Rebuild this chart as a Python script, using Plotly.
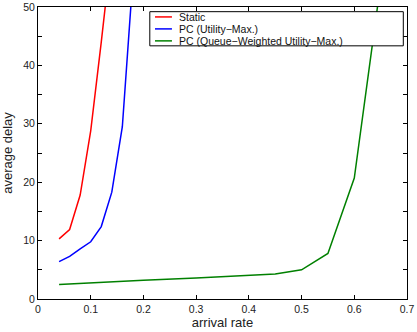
import plotly.graph_objects as go

# ---- data ----
static_x = [0.04, 0.06, 0.08, 0.10, 0.12, 0.14]
static_y = [10.3, 11.9, 17.8, 28.8, 44.0, 60.0]

pc_x = [0.04, 0.06, 0.08, 0.10, 0.12, 0.14, 0.16, 0.18]
pc_y = [6.4, 7.3, 8.6, 9.8, 12.4, 18.3, 29.5, 55.0]

qw_x = [0.04, 0.10, 0.20, 0.30, 0.40, 0.45, 0.50, 0.55, 0.60, 0.65]
qw_y = [2.5, 2.8, 3.2, 3.6, 4.0, 4.3, 5.0, 7.8, 20.7, 54.0]

names = ["Static", "PC (Utility\u2212Max.)", "PC (Queue\u2212Weighted Utility\u2212Max.)"]
colors = ["#ff0000", "#0000ff", "#008000"]
xs = [static_x, pc_x, qw_x]
ys = [static_y, pc_y, qw_y]

x_ticks = [0, 0.1, 0.2, 0.3, 0.4, 0.5, 0.6, 0.7]
x_ticklabels = ["0", "0.1", "0.2", "0.3", "0.4", "0.5", "0.6", "0.7"]
y_ticks = [0, 10, 20, 30, 40, 50]

FONT = "Liberation Sans, Arial, Helvetica, sans-serif"

fig = go.Figure()
for x, y, n, c in zip(xs, ys, names, colors):
    fig.add_trace(go.Scatter(x=x, y=y, mode="lines", name=n, showlegend=False,
                             line=dict(color=c, width=1.5)))

axis_common = dict(showline=True, linecolor="black", linewidth=1, mirror="allticks",
                   ticks="inside", ticklen=4, tickcolor="black", showgrid=False,
                   zeroline=False, automargin=False,
                   tickfont=dict(family=FONT, size=10.5, color="#222"))

fig.update_xaxes(range=[0, 0.7], tickvals=x_ticks, ticktext=x_ticklabels,
                 title=dict(text="arrival rate", font=dict(family=FONT, size=13, color="#222"),
                            standoff=3),
                 **axis_common)
fig.update_yaxes(range=[0, 50], tickvals=y_ticks,
                 minor=dict(tickvals=[5, 15, 25, 35, 45], ticks="inside", ticklen=4, tickcolor="black"),
                 title=dict(text="average delay", font=dict(family=FONT, size=13, color="#222"),
                            standoff=7),
                 **axis_common)

# ---- legend box (matlab-style) ----
lx0, lx1, ly0, ly1 = 0.303, 0.990, 0.867, 0.984
fig.add_shape(type="rect", xref="paper", yref="paper", x0=lx0, x1=lx1, y0=ly0, y1=ly1,
              fillcolor="white", line=dict(color="black", width=1), layer="above")
row_y = [0.966, 0.925, 0.884]
for n, c, ry in zip(names, colors, row_y):
    fig.add_shape(type="line", xref="paper", yref="paper", x0=0.317, x1=0.363, y0=ry, y1=ry,
                  line=dict(color=c, width=1.5), layer="above")
    fig.add_annotation(xref="paper", yref="paper", x=0.378, y=ry, text=n, showarrow=False,
                       xanchor="left", yanchor="middle",
                       font=dict(family=FONT, size=10.5, color="#111"))

fig.update_layout(width=417, height=332, margin=dict(l=38, r=10, t=7, b=33),
                  plot_bgcolor="white", paper_bgcolor="white",
                  font=dict(family=FONT, color="black"))

fig.write_html("out.html", config={"displayModeBar": False},
               post_script="document.body.style.margin='0';document.body.style.overflow='hidden';")
